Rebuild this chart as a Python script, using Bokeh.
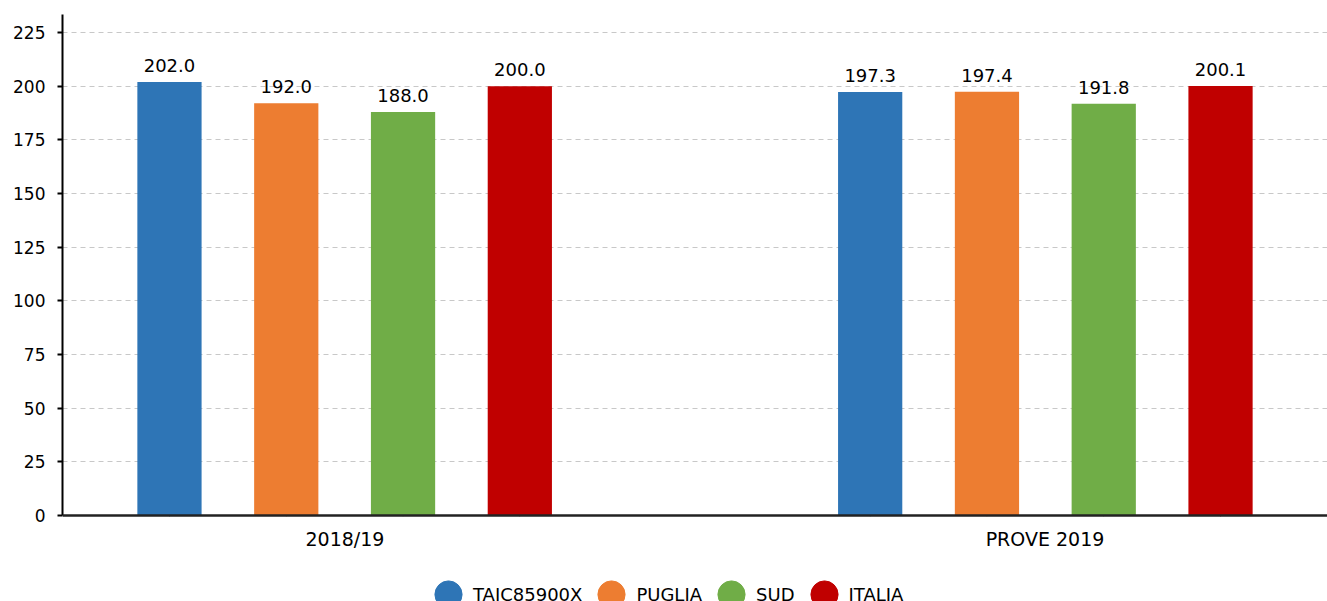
from bokeh.plotting import figure
from bokeh.models import (ColumnDataSource, FactorRange, LabelSet, Legend, LegendItem,
                          FixedTicker, Span, Range1d)
from bokeh.core.properties import value
from bokeh.embed import file_html
from bokeh.resources import INLINE

categories = ["2018/19", "PROVE 2019"]
series = ["TAIC85900X", "PUGLIA", "SUD", "ITALIA"]
taic = [202.0, 197.3]
puglia = [192.0, 197.4]
sud = [188.0, 191.8]
italia = [200.0, 200.1]
colors = ["#2E75B6", "#ED7D31", "#70AD47", "#C00000"]
y_ticks = [0, 25, 50, 75, 100, 125, 150, 175, 200, 225]

values = [taic, puglia, sud, italia]
FONT = "DejaVu Sans"
Y_TOP = 233.4

factors = [(c, s) for c in categories for s in series]

p = figure(
    x_range=FactorRange(*factors, range_padding=0.0832, group_padding=2.0),
    y_range=Range1d(-40.06, Y_TOP),
    width=1327, height=601,
    output_backend="svg", toolbar_location=None,
    x_axis_location=None,
    min_border_left=62, min_border_right=0, min_border_top=14, min_border_bottom=0,
)
p.extra_x_ranges = {"cat": FactorRange(*categories, factor_padding=0.239, range_padding=0)}
p.outline_line_color = None
p.background_fill_color = "white"
p.border_fill_color = "white"

p.xgrid.grid_line_color = None
p.ygrid.grid_line_color = "#c8c8c8"
p.ygrid.grid_line_dash = "5 4"
p.ygrid.grid_line_width = 1

p.yaxis.ticker = FixedTicker(ticks=y_ticks)
p.yaxis.bounds = (0, Y_TOP)
p.yaxis.axis_line_color = "black"
p.yaxis.axis_line_width = 2
p.yaxis.major_tick_line_color = "black"
p.yaxis.major_tick_line_width = 2
p.yaxis.major_tick_in = 0
p.yaxis.major_tick_out = 5
p.yaxis.minor_tick_line_color = None
p.yaxis.major_label_text_font = FONT
p.yaxis.major_label_text_font_size = "17px"
p.yaxis.major_label_text_color = "black"
p.yaxis.major_label_standoff = 12

legend_items = []
for name, vals, col in zip(series, values, colors):
    xs = [(c, name) for c in categories]
    src = ColumnDataSource(dict(x=xs, val=vals, base=[0] * len(vals),
                                txt=[f"{v:.1f}" for v in vals]))
    p.vbar(x="x", top="val", width=0.55, source=src, fill_color=col, line_color=None)
    labels = LabelSet(x="x", y="val", text="txt", source=src,
                      text_align="center", text_baseline="alphabetic", y_offset=10,
                      text_font=value(FONT), text_font_size="18px", text_color="black")
    p.add_layout(labels)
    # tiny round marker hidden under the baseline; used for the round legend swatch
    marker = p.ellipse(x="x", y="base", width=1, height=1, width_units="screen",
                       height_units="screen", source=src, fill_color=col, line_color=col)
    legend_items.append(LegendItem(label=name, renderers=[marker]))

# x axis baseline
p.add_layout(Span(location=0, dimension="width", line_color="#222222", line_width=2.5))

# category labels under the baseline
cat_src = ColumnDataSource(dict(cat=categories, y=[0] * len(categories)))
p.add_layout(LabelSet(x="cat", y="y", text="cat", source=cat_src, x_range_name="cat",
                      text_align="center", text_baseline="middle", y_offset=-23,
                      text_font=value(FONT), text_font_size="19px", text_color="black"))

legend = Legend(
    items=legend_items, orientation="horizontal", location=(369, -10),
    glyph_width=34, glyph_height=34, label_standoff=8, spacing=12,
    padding=0, margin=0, border_line_color=None, background_fill_alpha=0,
    label_text_font=FONT, label_text_font_size="18px", label_text_color="black",
)
p.add_layout(legend, "center")

open("out.html", "w").write(file_html(p, INLINE))
